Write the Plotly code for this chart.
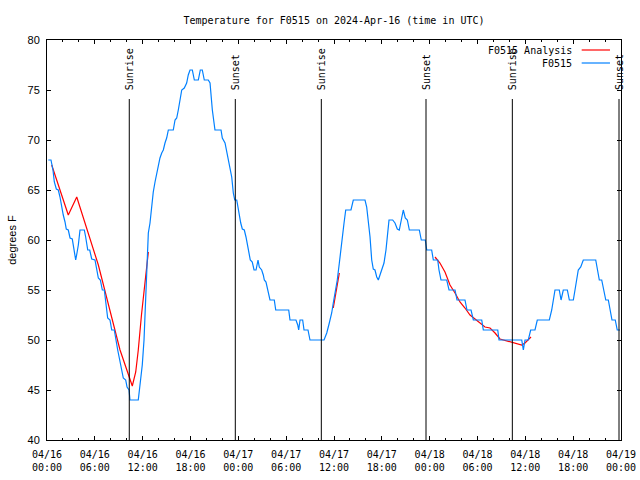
import plotly.graph_objects as go
import pandas as pd

START = pd.Timestamp("2024-04-16 00:00")

# Observed F0515 temperature: hours after 04/16 00:00 UTC and degrees F
obs_hours = [0.16, 0.50, 0.75, 0.92, 1.17, 1.42, 1.63, 1.84, 2.04, 2.26, 2.42, 2.67, 2.89, 3.17,
             3.35, 3.60, 3.76, 3.93, 4.14, 4.68, 4.85, 5.11, 5.36, 5.61, 6.02, 6.23, 6.44, 6.69,
             6.94, 7.19, 7.36, 7.61, 7.90, 8.12, 8.44, 8.62, 8.87, 9.12, 9.37, 9.57, 9.87, 10.04,
             10.29, 10.41, 11.45, 11.67, 11.95, 12.17, 12.38, 12.54, 12.71, 12.92, 13.13, 13.33,
             13.55, 13.76, 13.96, 14.17, 14.39, 14.59, 14.80, 15.01, 15.22, 15.84, 16.06, 16.27,
             16.47, 16.68, 16.90, 17.22, 17.52, 17.72, 17.94, 18.23, 18.48, 18.98, 19.23, 19.48,
             19.73, 20.23, 20.45, 20.74, 20.91, 21.07, 21.83, 21.99, 22.33, 22.54, 22.74, 22.96,
             23.17, 23.37, 23.55, 23.80, 23.96, 24.12, 24.30, 24.50, 24.75, 24.96, 25.18, 25.34,
             25.50, 25.75, 25.97, 26.22, 26.47, 26.63, 26.93, 27.13, 27.26, 27.47, 27.63, 27.85,
             27.97, 28.51, 28.69, 30.32, 30.48, 31.23, 31.45, 31.57, 31.74, 32.07, 32.24, 32.74,
             32.99, 34.75, 35.09, 35.41, 35.71, 35.91, 36.16, 36.41, 36.67, 36.84, 37.00, 37.26,
             37.47, 38.13, 38.42, 39.89, 40.10, 40.30, 40.52, 40.73, 40.93, 41.14, 41.36, 41.56,
             41.77, 41.98, 42.27, 42.52, 42.69, 42.90, 43.36, 43.65, 43.94, 44.19, 44.44, 44.69,
             44.94, 45.20, 45.45, 46.70, 46.95, 47.45, 47.63, 48.25, 48.46, 49.01, 49.17, 49.42,
             50.14, 50.43, 51.18, 51.43, 52.43, 52.68, 53.19, 53.48, 54.53, 54.73, 56.54, 56.70,
             59.55, 59.67, 59.75, 59.96, 60.37, 60.67, 61.21, 61.50, 63.01, 63.31, 63.51, 63.72,
             64.26, 64.48, 64.76, 65.27, 65.52, 66.02, 66.23, 66.44, 66.64, 66.95, 67.27, 68.83,
             69.03, 69.28, 69.58, 69.79, 70.09, 70.41, 70.62, 70.87, 71.28, 71.53, 71.88]
obs_temp = [68, 68, 67, 65.8, 65.1, 65, 64.3, 63.3, 62.5, 61.8, 61.1, 61, 60.2, 60.1,
            59.2, 58, 58.7, 59.5, 61, 61, 60.3, 59, 59, 58.1, 58, 57.2, 56.2, 56,
            55, 55, 54, 52.2, 52, 51, 51, 50, 49, 48, 47, 46.2, 46, 45.3,
            45, 44, 44, 45.7, 47.5, 50, 55, 57.3, 60.7, 61.7, 63.7, 64.8,
            65.8, 66.7, 67.3, 68.2, 68.7, 69, 69.7, 70.2, 71, 71, 72, 72.2,
            73, 74.2, 75, 75.2, 75.7, 76.5, 77, 77, 76, 76, 77, 77,
            76, 76, 75.7, 73, 71.8, 71, 71, 70.2, 69.7, 68.8, 68, 67.3,
            66.3, 64.7, 64, 64, 63.2, 62.3, 61.7, 61.1, 61, 60.3, 59.2, 58.5,
            58, 57.8, 57, 57, 58, 57.3, 57, 56.5, 56, 55.8, 55.3, 54.5,
            54, 54, 53, 53, 52, 52, 51.5, 51, 52, 52, 51, 51,
            50, 50, 50.7, 51.7, 52.7, 53.7, 54.7, 56, 57.7, 59, 60.3, 61.7,
            63, 63, 64, 64, 63.3, 62, 60.3, 58, 57.1, 57, 56.3, 56,
            56.5, 57, 57.7, 59, 60.7, 62, 62, 61.7, 61.1, 61, 62, 63,
            62.2, 62, 61, 61, 60, 60, 59, 59, 58, 58, 57, 56,
            56, 55, 55, 54, 54, 53, 53, 52, 52, 51, 51, 50,
            50, 49.5, 49, 50, 50, 51, 51, 52, 52, 53, 54, 55,
            55, 54, 55, 55, 54, 54, 55, 56, 57, 57.3, 58, 58,
            57, 56, 56, 55, 54, 54, 53, 52, 52, 51, 51]

# F0515 Analysis (None marks gaps between analysis segments)
ana_hours = [0.59, 2.67, 3.73, 6.44, 9.16, 10.41, 10.70, 11.13, 11.45, 11.85, 12.29, 12.71, None,
             35.91, 36.67, None,
             48.67, 49.29, 49.92, 50.55, 51.18, 51.80, 52.43, 53.06, 53.69, 54.32, 54.94, 55.57,
             56.20, 56.82, 58.08, 58.92, 59.55, 59.96, 60.37, 60.71]
ana_temp = [67.5, 62.5, 64.3, 57.5, 49, 46.2, 45.4, 46.8, 49, 52.5, 55.8, 58.8, None,
            53.2, 56.7, None,
            58.3, 57.7, 56.8, 55.5, 54.7, 53.8, 53.2, 52.5, 52.1, 51.7, 51.3, 51.2,
            50.7, 50.1, 49.8, 49.6, 49.5, 49.7, 50, 50.3]

sun_hours = [10.32, 23.62, 34.41, 47.54, 58.37, 71.75]
sun_labels = ["Sunrise", "Sunset", "Sunrise", "Sunset", "Sunrise", "Sunset"]

tick_hours = [0, 6, 12, 18, 24, 30, 36, 42, 48, 54, 60, 66, 72]
tick_labels = ["04/16<br>00:00", "04/16<br>06:00", "04/16<br>12:00", "04/16<br>18:00",
               "04/17<br>00:00", "04/17<br>06:00", "04/17<br>12:00", "04/17<br>18:00",
               "04/18<br>00:00", "04/18<br>06:00", "04/18<br>12:00", "04/18<br>18:00",
               "04/19<br>00:00"]

legend_names = ["F0515 Analysis", "F0515"]
colors = ["#ff0000", "#0080ff"]


def to_time(hours):
    return [None if h is None else START + pd.Timedelta(hours=h) for h in hours]


MONO = "DejaVu Sans Mono"
SANS = "Liberation Sans"

fig = go.Figure()
fig.add_trace(go.Scatter(x=to_time(ana_hours), y=ana_temp, mode="lines",
                         line=dict(color=colors[0], width=1.2), name=legend_names[0],
                         connectgaps=False, showlegend=False))
fig.add_trace(go.Scatter(x=to_time(obs_hours), y=obs_temp, mode="lines",
                         line=dict(color=colors[1], width=1.2), name=legend_names[1],
                         showlegend=False))

sun_times = to_time(sun_hours)
for t, lab in zip(sun_times, sun_labels):
    fig.add_shape(type="line", xref="x", yref="y", x0=t, x1=t, y0=40, y1=74.1,
                  line=dict(color="black", width=1))
    fig.add_annotation(x=t, y=74.9, xref="x", yref="y", text=lab, textangle=-90,
                       showarrow=False, xanchor="center", yanchor="bottom",
                       font=dict(family=MONO, size=10, color="black"), borderpad=0)

# Gnuplot-style key: text on the left, line sample on the right
for i, (name, col) in enumerate(zip(legend_names, colors)):
    yp = 0.975 - i * 0.0325
    fig.add_annotation(x=0.918, y=yp, xref="paper", yref="paper", text=name,
                       showarrow=False, xanchor="right", yanchor="middle",
                       font=dict(family=MONO, size=10, color="black"))
    fig.add_shape(type="line", xref="paper", yref="paper", x0=0.9315, x1=0.9808,
                  y0=yp, y1=yp, line=dict(color=col, width=1.2))

fig.update_layout(
    width=640, height=480,
    margin=dict(l=47, r=19, t=40, b=40, autoexpand=False),
    paper_bgcolor="white", plot_bgcolor="white",
    title=dict(text="Temperature for F0515 on 2024-Apr-16 (time in UTC)",
               x=0.5, xref="paper", y=1 - 20 / 480, yanchor="middle",
               font=dict(family=MONO, size=10, color="black")),
    font=dict(family=MONO, size=10, color="black"),
)
fig.update_xaxes(
    range=[START, START + pd.Timedelta(hours=72)],
    tickvals=to_time(tick_hours), ticktext=tick_labels,
    ticks="inside", ticklen=4, tickcolor="black",
    minor=dict(dtick=7200000, ticks="inside", ticklen=2, tickcolor="black"),
    showline=True, linecolor="black", linewidth=1, mirror="ticks",
    showgrid=False, zeroline=False, automargin=False, ticklabelstandoff=5,
    tickfont=dict(family=MONO, size=10, color="black"),
)
fig.update_yaxes(
    range=[40, 80], dtick=5, tick0=40,
    ticks="inside", ticklen=4, tickcolor="black",
    showline=True, linecolor="black", linewidth=1, mirror="ticks",
    showgrid=False, zeroline=False, automargin=False, ticklabelstandoff=4,
    tickfont=dict(family=SANS, size=11, color="black"),
    title=dict(text="degrees F", font=dict(family=SANS, size=11, color="black"), standoff=8),
)

fig.write_html("out.html", config={"displayModeBar": False},
               post_script="document.body.style.margin='0';")
